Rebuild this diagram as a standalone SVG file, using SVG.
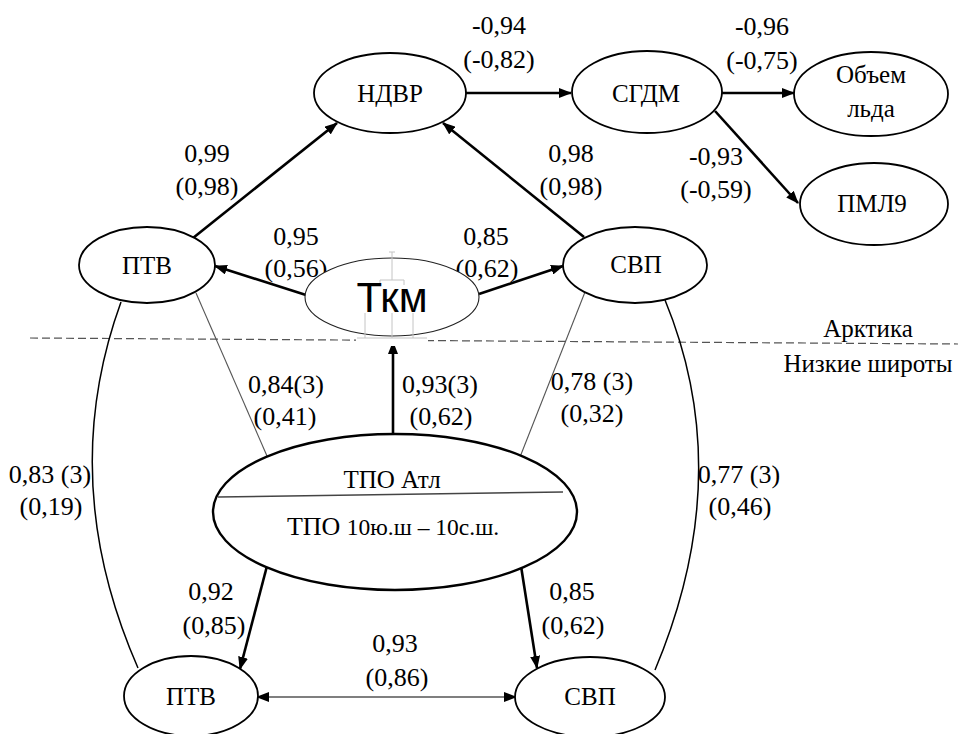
<svg xmlns="http://www.w3.org/2000/svg" width="958" height="734" viewBox="0 0 958 734">
<defs>
<style>
.nd{fill:#fff;stroke:#000;stroke-width:1.8}
.t{font-size:26px;text-anchor:middle;fill:#000}
.tn{font-size:25px;text-anchor:middle;fill:#000}
.thick{fill:none;stroke:#000;stroke-width:2.6;marker-end:url(#ah)}
.thin{fill:none;stroke:#555;stroke-width:1.1}
.curve{fill:none;stroke:#000;stroke-width:1.5}
.art{fill:none;stroke:#c4c4c4;stroke-width:1}
</style>
<marker id="ah" markerUnits="userSpaceOnUse" markerWidth="13" markerHeight="10" refX="12" refY="5" orient="auto"><path d="M0,0 L13,5 L0,10 z" fill="#000"/></marker>
<marker id="ah2" markerUnits="userSpaceOnUse" markerWidth="13" markerHeight="10" refX="12" refY="5" orient="auto-start-reverse"><path d="M0,0 L13,5 L0,10 z" fill="#000"/></marker>
</defs>
<rect width="958" height="734" fill="#fff"/>

<g font-family="Liberation Serif, Times New Roman, serif">
<line x1="30" y1="338" x2="958" y2="344" stroke="#555" stroke-width="1.2" stroke-dasharray="8,4"/>
<text class="tn" x="868" y="337">Арктика</text>
<text class="tn" x="868" y="372">Низкие широты</text>

<g id="connectors">
<line class="thick" x1="466" y1="93" x2="571" y2="93"/>
<line class="thick" x1="722" y1="93" x2="794" y2="93"/>
<line class="thick" x1="715" y1="111" x2="798" y2="203"/>
<line class="thick" x1="193" y1="238" x2="337" y2="123"/>
<line class="thick" x1="584" y1="237" x2="443" y2="123"/>
<line class="thick" x1="306" y1="295" x2="215" y2="266"/>
<line class="thick" x1="479" y1="294" x2="563" y2="266"/>
<line class="thick" x1="393" y1="434" x2="393" y2="342"/>
<line class="thick" x1="267" y1="566" x2="240" y2="669"/>
<line class="thick" x1="521" y1="566" x2="537" y2="668"/>
<line x1="257" y1="697" x2="516" y2="697" stroke="#000" stroke-width="1.2" marker-start="url(#ah2)" marker-end="url(#ah2)"/>
<line class="thin" x1="196" y1="293" x2="267" y2="456"/>
<line class="thin" x1="585" y1="292" x2="520" y2="457"/>
<path class="curve" d="M121,302 Q56,481 138,668"/>
<path class="curve" d="M665,300 Q737,475 655,670"/>
</g>

<g id="labels">
<text class="t" x="499" y="34">-0,94</text>
<text class="t" x="499" y="68">(-0,82)</text>
<text class="t" x="762" y="35">-0,96</text>
<text class="t" x="762" y="69">(-0,75)</text>
<text class="t" x="716" y="165">-0,93</text>
<text class="t" x="716" y="198">(-0,59)</text>
<text class="t" x="207" y="162">0,99</text>
<text class="t" x="207" y="195">(0,98)</text>
<text class="t" x="571" y="162">0,98</text>
<text class="t" x="571" y="195">(0,98)</text>
<text class="t" x="296" y="245">0,95</text>
<text class="t" x="296" y="277">(0,56)</text>
<text class="t" x="486" y="245">0,85</text>
<text class="t" x="487" y="277">(0,62)</text>
<text class="t" x="286" y="393">0,84(3)</text>
<text class="t" x="285" y="425">(0,41)</text>
<text class="t" x="440" y="393">0,93(3)</text>
<text class="t" x="441" y="425">(0,62)</text>
<text class="t" x="592" y="390">0,78 (3)</text>
<text class="t" x="592" y="422">(0,32)</text>
<text class="t" x="50" y="483">0,83 (3)</text>
<text class="t" x="51" y="515">(0,19)</text>
<text class="t" x="739" y="483">0,77 (3)</text>
<text class="t" x="740" y="515">(0,46)</text>
<text class="t" x="211" y="600">0,92</text>
<text class="t" x="214" y="634">(0,85)</text>
<text class="t" x="572" y="600">0,85</text>
<text class="t" x="573" y="634">(0,62)</text>
<text class="t" x="395" y="652">0,93</text>
<text class="t" x="397" y="686">(0,86)</text>
</g>

<g id="n-ndvr"><ellipse class="nd" cx="390" cy="93" rx="76" ry="40"/><text class="tn" x="390" y="102">НДВР</text></g>
<g id="n-sgdm"><ellipse class="nd" cx="647" cy="92" rx="75" ry="41"/><text class="tn" x="646" y="102">СГДМ</text></g>
<g id="n-ice"><ellipse class="nd" cx="871" cy="94" rx="77" ry="42"/><text class="tn" x="871" y="83">Объем</text><text class="tn" x="871" y="117">льда</text></g>
<g id="n-pml9"><ellipse class="nd" cx="874" cy="204" rx="74" ry="41"/><text class="tn" x="872" y="212">ПМЛ9</text></g>
<g id="n-ptv-up"><ellipse class="nd" cx="147" cy="265" rx="68" ry="38"/><text class="tn" x="147" y="274">ПТВ</text></g>
<g id="n-svp-up"><ellipse class="nd" cx="635" cy="265" rx="72" ry="38"/><text class="tn" x="636" y="273">СВП</text></g>
<g id="n-tkm">
<rect x="356" y="334" width="72" height="12" fill="#fff"/>
<ellipse cx="392" cy="297" rx="87" ry="39" fill="#fff" stroke="#222" stroke-width="1.1"/>
<path class="art" d="M389,252 H395 M392,252 V280 M380,285 V280 H404 V285 M365,313 V338 M392,313 V338 M413,313 V338 M357,338 H427"/>
<text x="392" y="312" font-family="Liberation Sans, Arial, sans-serif" font-size="42" text-anchor="middle" fill="#000">Ткм</text>
</g>
<g id="n-tpo">
<ellipse cx="395" cy="512" rx="182" ry="78" fill="#fff" stroke="#000" stroke-width="2.4"/>
<line x1="218" y1="497" x2="563" y2="492" stroke="#444" stroke-width="1.4"/>
<text class="tn" x="392" y="488">ТПО Атл</text>
<text x="393" y="535" text-anchor="middle" fill="#000"><tspan font-size="26">ТПО </tspan><tspan font-size="23.5">10ю.ш – 10с.ш.</tspan></text>
</g>
<g id="n-ptv-low"><ellipse class="nd" cx="191" cy="696" rx="67" ry="40"/><text class="tn" x="191" y="705">ПТВ</text></g>
<g id="n-svp-low"><ellipse class="nd" cx="590" cy="697" rx="75" ry="40"/><text class="tn" x="590" y="705">СВП</text></g>
</g>
</svg>
